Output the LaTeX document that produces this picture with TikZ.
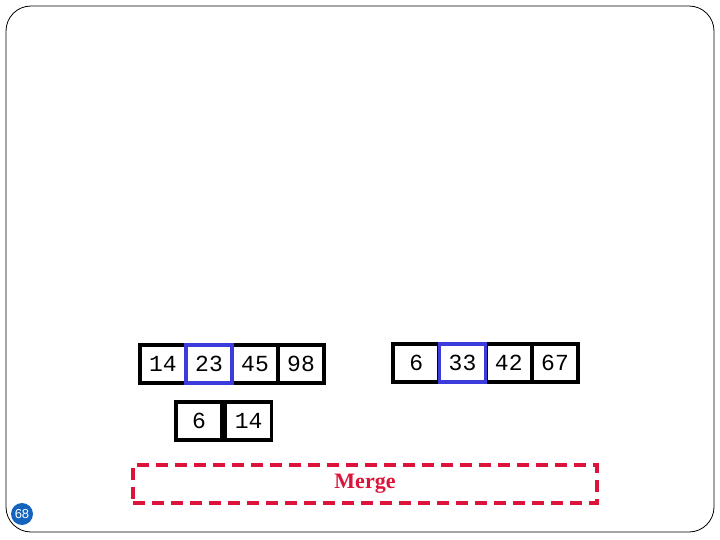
\documentclass[tikz,border=0pt]{standalone}
\usepackage{fontspec}
\setmonofont{Liberation Mono}
\setmainfont{Liberation Serif}
\setsansfont{Liberation Sans}
\usepackage{xcolor}
\definecolor{mergered}{RGB}{220,20,60}
\definecolor{ptrblue}{RGB}{60,60,220}
\definecolor{pageblue}{RGB}{20,100,190}
\usetikzlibrary{positioning}
\tikzset{cell/.style={draw=black, line width=3.6pt, minimum width=46pt, minimum height=38pt,
                      inner sep=0pt, font=\ttfamily\fontsize{23}{23}\selectfont},
         ptr/.style={draw=ptrblue, line width=3.6pt, minimum width=46pt, minimum height=38pt, inner sep=0pt}}
\begin{document}
\begin{tikzpicture}[x=1pt,y=-1pt]
                    \useasboundingbox (0,0) rectangle (720,540);
                    \draw[rounded corners=25pt, line width=0.8pt] (6,6) rectangle (714,532);
                    % left half
                    \foreach \v [count=\i] in {14,23,45,98}
                        \node[cell] (a\i) at (140+46*\i-23,364) {\v};
                    \node[ptr] (pa) at (a2) {};
                    % right half
                    \foreach \v [count=\i] in {6,33,42,67}
                        \node[cell] (b\i) at (393+46.25*\i-23,363) {\v};
                    \node[ptr] (pb) at (b2) {};
                    % merged so far
                    \node[cell] (c1) at (199,421) {6};
                    \node[cell, right=0pt of c1] (c2) {14};
                    % merge area
                    \node[draw=mergered, dashed, dash pattern=on 12pt off 7pt, line width=3.6pt,
                          minimum width=464pt, minimum height=38pt] (mrg) at (365,484) {};
                    \node[text=mergered, font=\bfseries\fontsize{22}{22}\selectfont] (mlbl) at (365,484) {Merge};
                    \node[circle, fill=pageblue, text=white, inner sep=0pt, minimum size=22pt,
                          font=\sffamily\fontsize{13}{13}\selectfont] (pg) at (22,514) {68};
                \end{tikzpicture}
\end{document}
